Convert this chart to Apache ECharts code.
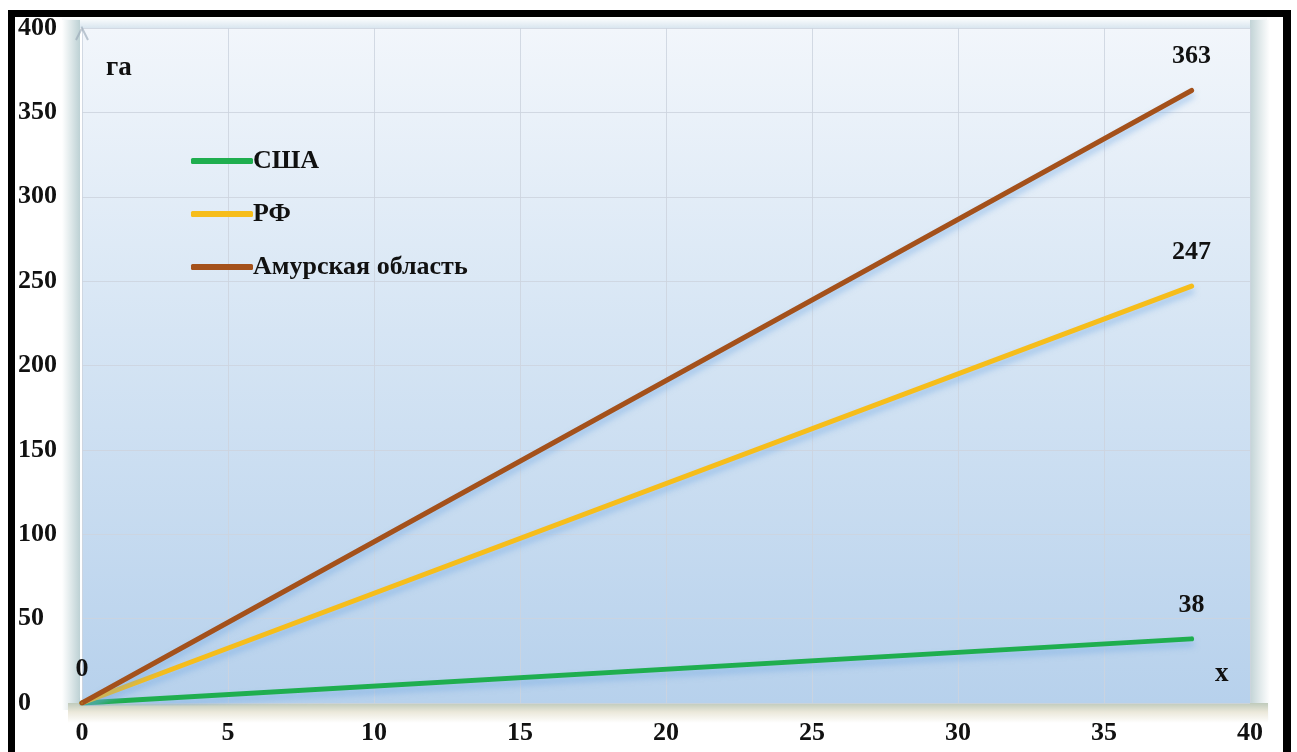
<!DOCTYPE html>
<html>
<head>
<meta charset="utf-8">
<script src="https://cdn.jsdelivr.net/npm/echarts@6/dist/echarts.min.js"></script>
<style>
  html, body { margin: 0; padding: 0; background: #ffffff; }
  #chart { width: 1297px; height: 752px; }
</style>
</head>
<body>
<div id="chart"></div>
<script>
// Land area per worker (ha), linear growth from 0
const seriesNames = ['США', 'РФ', 'Амурская область'];
const xPoints = [0, 38];
const usaValues = [0, 38];
const rfValues = [0, 247];
const amurValues = [0, 363];
const lineColors = ['#1fae4f', '#f6bd1b', '#a4511b'];
const yTicks = [0, 50, 100, 150, 200, 250, 300, 350, 400];
const xTicks = [0, 5, 10, 15, 20, 25, 30, 35, 40];

const FONT = '"Liberation Serif", "Times New Roman", serif';
const FS = 26;
const chart = echarts.init(document.getElementById('chart'), null, { renderer: 'canvas' });

function pairs(values) {
  return xPoints.map((x, i) => [x, values[i]]);
}

const labelStyle = {
  show: true,
  position: 'top',
  distance: 20,
  fontFamily: FONT,
  fontWeight: 'bold',
  fontSize: FS,
  color: '#111'
};

function makeSeries(name, values, color, showOriginLabel) {
  return {
    name: name,
    type: 'line',
    data: pairs(values).map((p, i) => ({
      value: p,
      label: { show: i === 1 || showOriginLabel }
    })),
    showSymbol: true,
    symbol: 'circle',
    symbolSize: 2,
    itemStyle: { color: color },
    lineStyle: {
      color: color,
      width: 5,
      cap: 'round',
      shadowColor: 'rgba(110,165,225,0.55)',
      shadowBlur: 6,
      shadowOffsetY: 5
    },
    label: labelStyle,
    emphasis: { disabled: true },
    animation: false
  };
}

const option = {
  backgroundColor: '#ffffff',
  animation: false,
  textStyle: { fontFamily: FONT },
  grid: {
    left: 82, right: 47, top: 28, bottom: 49,
    show: true,
    borderWidth: 0,
    backgroundColor: new echarts.graphic.LinearGradient(0, 0, 0, 1, [
      { offset: 0, color: '#f2f6fb' },
      { offset: 0.45, color: '#d6e5f4' },
      { offset: 1, color: '#b7d1ec' }
    ])
  },
  legend: {
    orient: 'vertical',
    left: 186,
    top: 143,
    itemWidth: 62,
    itemHeight: 6,
    itemGap: 27,
    icon: 'roundRect',
    textStyle: { fontFamily: FONT, fontWeight: 'bold', fontSize: FS, color: '#111', padding: [0, 0, 0, -5] },
    data: seriesNames.map((n, i) => ({ name: n, itemStyle: { color: lineColors[i], opacity: 1 } }))
  },
  xAxis: {
    type: 'value',
    min: 0, max: 40, interval: 5,
    axisLine: { show: false },
    axisTick: { show: false },
    axisLabel: {
      margin: 17,
      fontFamily: FONT, fontWeight: 'bold', fontSize: FS, color: '#111',
      formatter: v => (xTicks.indexOf(v) >= 0 ? String(v) : '')
    },
    splitLine: { show: true, lineStyle: { color: 'rgba(205,212,222,0.85)', width: 1 } }
  },
  yAxis: {
    type: 'value',
    min: 0, max: 400, interval: 50,
    axisLine: { show: false },
    axisTick: { show: false },
    axisLabel: {
      margin: 64,
      align: 'left',
      fontFamily: FONT, fontWeight: 'bold', fontSize: FS, color: '#111',
      formatter: v => (yTicks.indexOf(v) >= 0 ? String(v) : '')
    },
    splitLine: { show: true, lineStyle: { color: 'rgba(205,212,222,0.85)', width: 1 } }
  },
  graphic: [
    // black frame
    { type: 'rect', shape: { x: 8, y: 10, width: 1283, height: 7 }, style: { fill: '#000' }, z: 100 },
    { type: 'rect', shape: { x: 8, y: 10, width: 7, height: 742 }, style: { fill: '#000' }, z: 100 },
    { type: 'rect', shape: { x: 1283, y: 10, width: 8, height: 742 }, style: { fill: '#000' }, z: 100 },
    // top band above the panel
    { type: 'rect', shape: { x: 62, y: 17, width: 1205, height: 11 },
      style: { fill: new echarts.graphic.LinearGradient(0, 0, 0, 1, [
        { offset: 0, color: '#ffffff' }, { offset: 1, color: '#d9e6ef' }]) }, z: -10 },
    // left wall
    { type: 'rect', shape: { x: 62, y: 20, width: 18, height: 690 },
      style: { fill: new echarts.graphic.LinearGradient(0, 0, 1, 0, [
        { offset: 0, color: '#ffffff' }, { offset: 1, color: '#bdd1d4' }]) }, z: -10 },
    // right wall
    { type: 'rect', shape: { x: 1250, y: 20, width: 20, height: 700 },
      style: { fill: new echarts.graphic.LinearGradient(0, 0, 1, 0, [
        { offset: 0, color: '#c2d3d6' }, { offset: 1, color: '#ffffff' }]) }, z: -10 },
    // floor
    { type: 'rect', shape: { x: 68, y: 703, width: 1200, height: 20 },
      style: { fill: new echarts.graphic.LinearGradient(0, 0, 0, 1, [
        { offset: 0, color: '#bfcabb' }, { offset: 0.45, color: '#ebe8da' }, { offset: 1, color: '#ffffff' }]) }, z: -10 },
    // axis arrow at the top of the value axis
    { type: 'polyline', shape: { points: [[76, 40], [82, 28], [88, 40]] },
      style: { stroke: 'rgba(150,165,180,0.6)', lineWidth: 2, fill: null }, z: 5 },
    // axis captions
    { type: 'text', left: 106, top: 55,
      style: { text: 'га', font: 'bold 27px ' + FONT, fill: '#111' }, z: 50 },
    { type: 'text', left: 1215, top: 661,
      style: { text: 'x', font: 'bold 27px ' + FONT, fill: '#111' }, z: 50 }
  ],
  series: [
    makeSeries(seriesNames[0], usaValues, lineColors[0], true),
    makeSeries(seriesNames[1], rfValues, lineColors[1], false),
    makeSeries(seriesNames[2], amurValues, lineColors[2], false)
  ]
};

chart.setOption(option);
</script>
</body>
</html>
